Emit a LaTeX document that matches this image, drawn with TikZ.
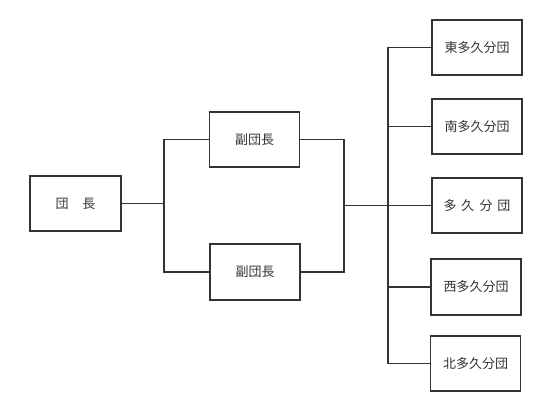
\documentclass[tikz,border=0pt]{standalone}
\usepackage{fontspec}
\newfontfamily\jp{Noto Sans CJK JP}
\definecolor{ln}{HTML}{333333}
\begin{document}
\begin{tikzpicture}[x=1pt,y=-1pt,
  box/.style={draw=ln,line width=1.1pt,minimum width=90pt,minimum height=55pt,inner sep=0pt,
    font=\jp\fontsize{13}{15}\selectfont,text=ln},
  conn/.style={draw=ln,line width=1.1pt}]
\useasboundingbox (0,0) rectangle (551,414);
\node[box,minimum width=91pt] (dan) at (75.5,203.5) {団\hspace{14pt}長};
\node[box] (f1) at (254.5,139.5) {副団長};
\node[box,minimum height=56pt] (f2) at (255,272) {副団長};
\node[box] (e) at (477,47.5) {東多久分団};
\node[box] (s) at (477,126.5) {南多久分団};
\node[box] (t) at (477,205.5) {多\hspace{5pt}久\hspace{5pt}分\hspace{5pt}団};
\node[box,minimum height=56pt] (w) at (476,287) {西多久分団};
\node[box] (n) at (475.5,363.5) {北多久分団};
\coordinate (j1) at (164,203.5);
\coordinate (j2) at (344,205.5);
\coordinate (j3) at (388,205.5);
\draw[conn] (dan.east) -- (j1);
\draw[conn] (f1.west) -| (j1) |- (f2.west);
\draw[conn] (f1.east) -| (j2) |- (f2.east);
\draw[conn] (j2) -- (t.west);
\draw[conn] (e.west) -| (j3) |- (n.west);
\draw[conn] (j3) |- (s.west);
\draw[conn] (j3) |- (w.west);
\end{tikzpicture}
\end{document}
